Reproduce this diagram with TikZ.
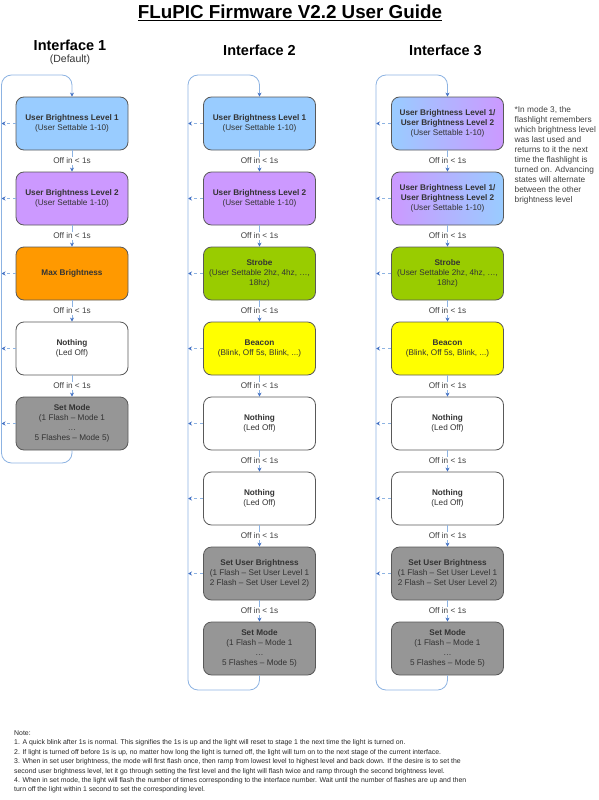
\documentclass[tikz,border=0pt]{standalone}
\usepackage{fontspec}
\setmainfont{Liberation Sans}
\usetikzlibrary{arrows.meta,positioning}
\definecolor{ublue}{RGB}{153,204,255}
\definecolor{upurple}{RGB}{204,153,255}
\definecolor{maxorange}{RGB}{255,153,0}
\definecolor{strobegreen}{RGB}{153,204,0}
\definecolor{beaconyellow}{RGB}{255,255,0}
\definecolor{setgray}{RGB}{150,150,150}
\definecolor{loopblue}{RGB}{141,179,226}
\definecolor{tipblue}{RGB}{68,114,196}
\newcommand{\offlabel}{Off in < 1s}

\begin{document}
\begin{tikzpicture}[x=1pt,y=-1pt,>=Stealth,
  state/.style={draw=black!65,line width=0.8pt,rounded corners=8pt,
    minimum width=112pt,minimum height=53pt,inner sep=1pt,align=center,
    text=black!80,font=\fontsize{8.2}{10}\selectfont},
  stepwire/.style={loopblue,line width=0.8pt,-{Stealth[tipblue,length=4pt,width=4pt]}},
  offlbl/.style={fill=white,inner sep=1pt,text=black!75,font=\fontsize{8.2}{9}\selectfont},
  reset/.style={loopblue,dashed,line width=0.8pt,-{Stealth[tipblue,length=4pt,width=4pt]}},
  loopwire/.style={loopblue,line width=0.8pt,rounded corners=10pt,
    -{Stealth[tipblue,length=4pt,width=4pt]}},
  heading/.style={font=\bfseries\fontsize{14.5}{16}\selectfont}]
  \useasboundingbox (0,0) rectangle (599,800);
  \node[font=\bfseries\fontsize{18.8}{22}\selectfont] (title) at (290,13)
      {\underline{FLuPIC Firmware V2.2 User Guide}};
  % ---------------- interface 1 --------------------------------------
  \begin{scope}[xshift=72pt]
    \node[heading] (h1) at (-2,45) {Interface 1};
    \node[font=\fontsize{10.5}{12}\selectfont,text=black!80] (h1sub) at (-2,60) {(Default)};
    \coordinate (aloop) at (-70.5,75);
    \node[state,fill=ublue] (a1) at (0,123.5)
        {\textbf{User Brightness Level 1}\\(User Settable 1-10)};
    \node[state,fill=upurple] (a2) at (0,198.5)
        {\textbf{User Brightness Level 2}\\(User Settable 1-10)};
    \node[state,fill=maxorange] (a3) at (0,273.5) {\textbf{Max Brightness}};
    \node[state,fill=white] (a4) at (0,348.5) {\textbf{Nothing}\\(Led Off)};
    \node[state,fill=setgray] (a5) at (0,423.5)
        {\textbf{Set Mode}\\(1 Flash -- Mode 1\\…\\5 Flashes -- Mode 5)};
    \foreach \i/\j in {1/2,2/3,3/4,4/5}
      \draw[stepwire] (a\i.south) -- (a\j.north) node[midway,offlbl] {\offlabel};
    \foreach \i in {1,...,5}
      \draw[reset] (a\i.west) -- (a\i.west -| aloop);
    \draw[loopwire] (a5.south) -- (a5.south |- 0,463) -- (aloop |- 0,463)
        -- (aloop) -- (aloop -| a1) -- (a1.north);
  \end{scope}
  % ---------------- interface 2 --------------------------------------
  \begin{scope}[xshift=259.5pt]
    \node[heading] (h2) at (0,50) {Interface 2};
    \coordinate (bloop) at (-71.5,75);
    \node[state,fill=ublue] (b1) at (0,123.5)
        {\textbf{User Brightness Level 1}\\(User Settable 1-10)};
    \node[state,fill=upurple] (b2) at (0,198.5)
        {\textbf{User Brightness Level 2}\\(User Settable 1-10)};
    \node[state,fill=strobegreen] (b3) at (0,273.5)
        {\textbf{Strobe}\\(User Settable 2hz, 4hz, …,\\18hz)};
    \node[state,fill=beaconyellow] (b4) at (0,348.5)
        {\textbf{Beacon}\\(Blink, Off 5s, Blink, ...)};
    \node[state,fill=white] (b5) at (0,423.5) {\textbf{Nothing}\\(Led Off)};
    \node[state,fill=white] (b6) at (0,498.5) {\textbf{Nothing}\\(Led Off)};
    \node[state,fill=setgray] (b7) at (0,573.5)
        {\textbf{Set User Brightness}\\(1 Flash -- Set User Level 1\\2 Flash -- Set User Level 2)};
    \node[state,fill=setgray] (b8) at (0,648.5)
        {\textbf{Set Mode}\\(1 Flash -- Mode 1\\…\\5 Flashes -- Mode 5)};
    \foreach \i/\j in {1/2,2/3,3/4,4/5,5/6,6/7,7/8}
      \draw[stepwire] (b\i.south) -- (b\j.north) node[midway,offlbl] {\offlabel};
    \foreach \i in {1,...,7}
      \draw[reset] (b\i.west) -- (b\i.west -| bloop);
    \draw[loopwire] (b8.south) -- (b8.south |- 0,690) -- (bloop |- 0,690)
        -- (bloop) -- (bloop -| b1) -- (b1.north);
  \end{scope}
  % ---------------- interface 3 --------------------------------------
  \begin{scope}[xshift=447.5pt]
    \node[heading] (h3) at (-2,50) {Interface 3};
    \coordinate (cloop) at (-71.5,75);
    \node[state,left color=ublue,right color=upurple] (c1) at (0,123.5)
        {\textbf{User Brightness Level 1/}\\\textbf{User Brightness Level 2}\\(User Settable 1-10)};
    \node[state,left color=upurple,right color=ublue] (c2) at (0,198.5)
        {\textbf{User Brightness Level 1/}\\\textbf{User Brightness Level 2}\\(User Settable 1-10)};
    \node[state,fill=strobegreen] (c3) at (0,273.5)
        {\textbf{Strobe}\\(User Settable 2hz, 4hz, …,\\18hz)};
    \node[state,fill=beaconyellow] (c4) at (0,348.5)
        {\textbf{Beacon}\\(Blink, Off 5s, Blink, ...)};
    \node[state,fill=white] (c5) at (0,423.5) {\textbf{Nothing}\\(Led Off)};
    \node[state,fill=white] (c6) at (0,498.5) {\textbf{Nothing}\\(Led Off)};
    \node[state,fill=setgray] (c7) at (0,573.5)
        {\textbf{Set User Brightness}\\(1 Flash -- Set User Level 1\\2 Flash -- Set User Level 2)};
    \node[state,fill=setgray] (c8) at (0,648.5)
        {\textbf{Set Mode}\\(1 Flash -- Mode 1\\…\\5 Flashes -- Mode 5)};
    \foreach \i/\j in {1/2,2/3,3/4,4/5,5/6,6/7,7/8}
      \draw[stepwire] (c\i.south) -- (c\j.north) node[midway,offlbl] {\offlabel};
    \foreach \i in {1,...,7}
      \draw[reset] (c\i.west) -- (c\i.west -| cloop);
    \draw[loopwire] (c8.south) -- (c8.south |- 0,690) -- (cloop |- 0,690)
        -- (cloop) -- (cloop -| c1) -- (c1.north);
    % side remark on the remembered level
    \node[anchor=north west,align=left,inner sep=0pt,text=black!75,
        font=\fontsize{8.3}{10}\selectfont] (memo) at (67,106.5)
        {*In mode 3, the\\flashlight remembers\\which brightness level\\was last used and\\
         returns to it the next\\time the flashlight is\\turned on. Advancing\\
         states will alternate\\between the other\\brightness level};
  \end{scope}
  % ---------------- notes ---------------------------------------------
  \node[anchor=north west,align=left,inner sep=0pt,text=black!85,
      font=\fontsize{6.9}{9.4}\selectfont] (notes) at (14,730.5)
      {Note:\\
       1. A quick blink after 1s is normal. This signifies the 1s is up and the light will reset to stage 1 the next time the light is turned on.\\
       2. If light is turned off before 1s is up, no matter how long the light is turned off, the light will turn on to the next stage of the current interface.\\
       3. When in set user brightness, the mode will first flash once, then ramp from lowest level to highest level and back down. If the desire is to set the\\
       second user brightness level, let it go through setting the first level and the light will flash twice and ramp through the second brightness level.\\
       4. When in set mode, the light will flash the number of times corresponding to the interface number. Wait until the number of flashes are up and then\\
       turn off the light within 1 second to set the corresponding level.};
\end{tikzpicture}
\end{document}
